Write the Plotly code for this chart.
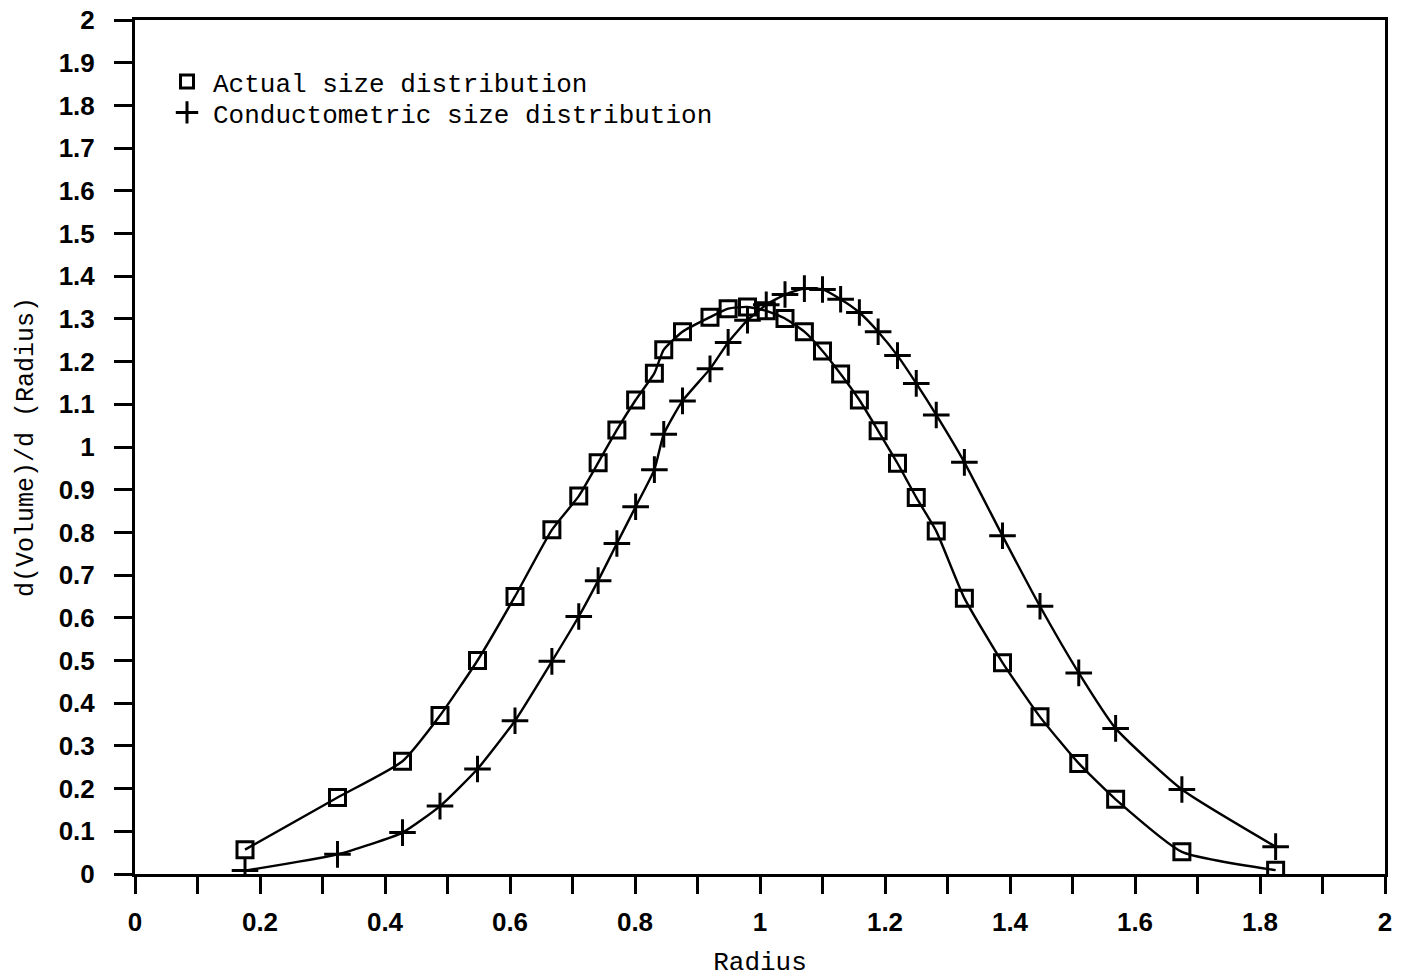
import plotly.graph_objects as go

# Radius values (shared by both series)
radius = [0.176, 0.324, 0.428, 0.488, 0.548, 0.608, 0.667, 0.710, 0.741, 0.771,
          0.801, 0.831, 0.846, 0.876, 0.920, 0.949, 0.980, 1.010, 1.040, 1.071,
          1.100, 1.129, 1.159, 1.189, 1.220, 1.250, 1.282, 1.327, 1.388, 1.448,
          1.510, 1.569, 1.675, 1.825]

actual = [0.057, 0.179, 0.264, 0.371, 0.500, 0.650, 0.806, 0.885, 0.963, 1.040,
          1.110, 1.173, 1.228, 1.270, 1.304, 1.324, 1.328, 1.319, 1.301, 1.270,
          1.225, 1.171, 1.110, 1.038, 0.962, 0.882, 0.803, 0.646, 0.495, 0.368,
          0.259, 0.175, 0.052, 0.009]

conductometric = [0.008, 0.046, 0.097, 0.159, 0.246, 0.359, 0.498, 0.603, 0.687, 0.774,
                  0.860, 0.947, 1.030, 1.108, 1.183, 1.245, 1.297, 1.333, 1.357, 1.371,
                  1.369, 1.346, 1.315, 1.270, 1.214, 1.149, 1.075, 0.964, 0.792, 0.627,
                  0.471, 0.341, 0.198, 0.064]

series_names = ["Actual size distribution", "Conductometric size distribution"]

x_tickvals = [i / 10 for i in range(21)]
x_ticktext = ["0", "", "0.2", "", "0.4", "", "0.6", "", "0.8", "", "1", "",
              "1.2", "", "1.4", "", "1.6", "", "1.8", "", "2"]
y_tickvals = [i / 10 for i in range(21)]
y_ticktext = ["0", "0.1", "0.2", "0.3", "0.4", "0.5", "0.6", "0.7", "0.8", "0.9", "1",
              "1.1", "1.2", "1.3", "1.4", "1.5", "1.6", "1.7", "1.8", "1.9", "2"]

mono = "Liberation Mono, Courier New, monospace"
sans = "Liberation Sans, Arial, sans-serif"

fig = go.Figure()

fig.add_trace(go.Scatter(
    x=radius, y=actual, mode="lines+markers", showlegend=False,
    line=dict(color="black", width=2.4, shape="spline", smoothing=0.5),
    marker=dict(symbol="square-open", size=16, color="black", line=dict(width=3, color="black")),
))
fig.add_trace(go.Scatter(
    x=radius, y=conductometric, mode="lines+markers", showlegend=False,
    line=dict(color="black", width=2.4, shape="spline", smoothing=0.5),
    marker=dict(symbol="cross-thin", size=19, color="black", line=dict(width=3, color="black")),
))

# legend entries (markers only, as in the original)
fig.add_trace(go.Scatter(
    x=[None], y=[None], mode="markers", name=series_names[0], legend="legend",
    marker=dict(symbol="square-open", size=13, color="black", line=dict(width=3, color="black")),
))
fig.add_trace(go.Scatter(
    x=[None], y=[None], mode="markers", name=series_names[1], legend="legend2",
    marker=dict(symbol="cross-thin", size=19, color="black", line=dict(width=3, color="black")),
))

legend_style = dict(
    xanchor="left", yanchor="top",
    font=dict(family=mono, size=26, color="black"),
    itemwidth=42, bgcolor="rgba(0,0,0,0)", borderwidth=0,
)

fig.update_layout(
    width=1401, height=980,
    margin=dict(l=135, r=16, t=20, b=106, autoexpand=False),
    paper_bgcolor="white", plot_bgcolor="white",
    showlegend=True,
    legend=dict(x=0.0208, y=0.9555, **legend_style),
    legend2=dict(x=0.0208, y=0.9192, **legend_style),
    font=dict(family=sans, color="black"),
)

fig.update_xaxes(
    range=[0, 2], tickvals=x_tickvals, ticktext=x_ticktext,
    showline=True, linecolor="black", linewidth=2.5, mirror=True,
    ticks="outside", ticklen=17, tickwidth=2.5, tickcolor="black",
    ticklabelstandoff=6, ticklabeloverflow="allow",
    tickfont=dict(family=sans, size=26, color="black", weight="bold"),
    showgrid=False, zeroline=False,
    title=dict(text="Radius", font=dict(family=mono, size=26, color="black"), standoff=16),
)
fig.update_yaxes(
    range=[0, 2], tickvals=y_tickvals, ticktext=y_ticktext,
    showline=True, linecolor="black", linewidth=3, mirror=True,
    ticks="outside", ticklen=18, tickwidth=2.5, tickcolor="black",
    ticklabelstandoff=14, ticklabeloverflow="allow",
    tickfont=dict(family=sans, size=26, color="black", weight="bold"),
    showgrid=False, zeroline=False,
    title=dict(text="d(Volume)/d (Radius)", font=dict(family=mono, size=25, color="black"), standoff=18),
)

fig.write_html("out.html", config={"displayModeBar": False},
               post_script="document.body.style.margin='0px';")
